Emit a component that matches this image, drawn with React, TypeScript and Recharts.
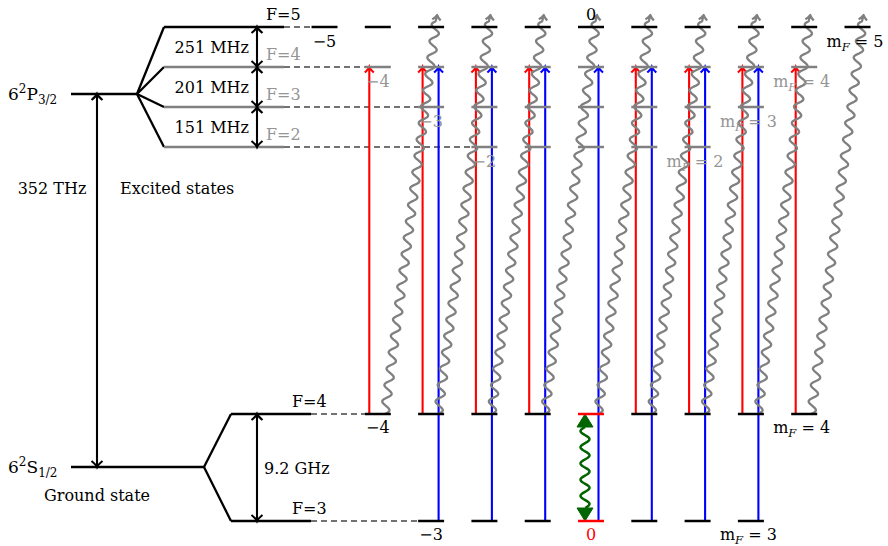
import { ComposedChart, XAxis, YAxis, Scatter, ReferenceLine, ReferenceDot } from "recharts";

// quantum numbers of the Cs D2 line
const mF = [-5, -4, -3, -2, -1, 0, 1, 2, 3, 4, 5];
const excitedF = [5, 4, 3, 2];
const excitedSplits = ["251 MHz", "201 MHz", "151 MHz"];
const groundF = [4, 3];
const groundSplit = "9.2 GHz";
const opticalSplit = "352 THz";
// transitions
const redM = [-4, -3, -2, -1, 1, 2, 3, 4]; // F=4 -> F'=4, same m
const blueM = [-3, -2, -1, 0, 1, 2, 3]; // F=3 -> F'=4, same m
const decayM = [-4, -3, -2, -1, 0, 1, 2, 3, 4]; // F=4 m -> F'=5 m+1
const clockM = 0;

// layout
const W = 888;
const H = 546;
const COL0 = 591;
const COLW = 53.3;
const HALF = 13;
const yExc: Record<number, number> = { 5: 27, 4: 67, 3: 107, 2: 147 };
const yGnd: Record<number, number> = { 4: 414, 3: 521 };
const Y_P = 94;
const Y_S = 467;
const X_TERM = 71;
const X_PFAN = 137;
const X_HF = 164;
const X_HFEND = 284;
const X_SFAN = 204;
const X_GHF = 231;
const X_GHFEND = 311;
const X_BIG = 97;
const X_SPLIT = 257;
const Y_TIP = 15;

const BLACK = "#000";
const GRAY = "#808080";
const LGRAY = "#959595";
const RED = "#ff0000";
const BLUE = "#0000ff";
const GREEN = "#006400";
const FONT = "DejaVu Serif";

const colX = (m: number) => COL0 + COLW * m;
const fmt = (m: number) => (m < 0 ? "\u2212" + Math.abs(m) : String(m));

const sublevels = [
  ...excitedF.flatMap((F) =>
    mF.filter((m) => Math.abs(m) <= F).map((m) => ({ x: colX(m), y: yExc[F], color: F === 5 ? BLACK : GRAY }))
  ),
  ...groundF.flatMap((F) =>
    mF.filter((m) => Math.abs(m) <= F).map((m) => ({ x: colX(m), y: yGnd[F], color: m === clockM ? RED : BLACK }))
  ),
];

function unit(x1: number, y1: number, x2: number, y2: number) {
  const dx = x2 - x1, dy = y2 - y1, L = Math.hypot(dx, dy);
  return { L, ux: dx / L, uy: dy / L, nx: -dy / L, ny: dx / L };
}

function head(tx: number, ty: number, ux: number, uy: number, w: number, l: number) {
  const nx = -uy, ny = ux;
  const ax = tx - ux * l, ay = ty - uy * l;
  return `M${ax + nx * w},${ay + ny * w} Q${tx - ux * l * 0.35 + nx * w * 0.15},${ty - uy * l * 0.35 + ny * w * 0.15} ${tx},${ty} Q${tx - ux * l * 0.35 - nx * w * 0.15},${ty - uy * l * 0.35 - ny * w * 0.15} ${ax - nx * w},${ay - ny * w}`;
}

function arrow(color: string, sw: number, w: number, l: number, both: boolean) {
  return (p: any) => {
    const { x1, y1, x2, y2 } = p;
    const u = unit(x1, y1, x2, y2);
    let d = `M${x1},${y1} L${x2},${y2} ` + head(x2, y2, u.ux, u.uy, w, l);
    if (both) d += " " + head(x1, y1, -u.ux, -u.uy, w, l);
    return <path d={d} stroke={color} strokeWidth={sw} fill="none" />;
  };
}

function wave(x1: number, y1: number, x2: number, y2: number, amp: number, len: number, a: number, b: number) {
  const u = unit(x1, y1, x2, y2);
  const span = u.L - a - b;
  const lam = span / Math.max(1, Math.round(span / len));
  let d = `M${x1 + u.ux * a},${y1 + u.uy * a}`;
  for (let t = 0; t <= span; t += 0.8) {
    const o = amp * Math.sin((2 * Math.PI * t) / lam);
    d += ` L${(x1 + u.ux * (a + t) + u.nx * o).toFixed(2)},${(y1 + u.uy * (a + t) + u.ny * o).toFixed(2)}`;
  }
  return { d, u };
}

const decayShape = (p: any) => {
  const { x1, y1, x2, y2 } = p;
  const { d, u } = wave(x1, y1, x2, y2, 4.2, 16.5, 0, 6);
  return (
    <path
      d={d + ` L${x2},${y2} ` + head(x2, y2, u.ux, u.uy, 4.2, 5)}
      stroke={GRAY}
      strokeWidth={2.3}
      fill="none"
      strokeLinejoin="round"
    />
  );
};

const clockShape = (p: any) => {
  const { x1, y1, x2, y2 } = p;
  const { d } = wave(x1, y1, x2, y2, 4.5, 15, 13, 13);
  const tri = (tx: number, ty: number, s: number) =>
    `M${tx},${ty} L${tx - 8},${ty + s * 13} L${tx + 8},${ty + s * 13} Z`;
  return (
    <g>
      <path d={d} stroke={GREEN} strokeWidth={2.5} fill="none" strokeLinejoin="round" />
      <path d={tri(x1, y1, 1) + " " + tri(x2, y2, -1)} fill={GREEN} stroke={GREEN} strokeWidth={1} />
    </g>
  );
};

const seg = (key: string, a: [number, number], b: [number, number], props: any) => (
  <ReferenceLine
    key={key}
    segment={[{ x: a[0], y: a[1] }, { x: b[0], y: b[1] }]}
    ifOverflow="visible"
    {...props}
  />
);

const txt = (key: string, x: number, y: number, content: any, anchor = "start", color = BLACK, size = 16) => (
  <ReferenceDot
    key={key}
    x={x}
    y={y}
    r={0}
    ifOverflow="visible"
    shape={(p: any) => (
      <text x={p.cx} y={p.cy} textAnchor={anchor} fill={color} fontFamily={FONT} fontSize={size}>
        {content}
      </text>
    )}
  />
);

const mfLabel = (v: number) => (
  <>
    <tspan>m</tspan>
    <tspan fontStyle="italic" fontSize={11.5} dy={3.5}>F</tspan>
    <tspan dy={-3.5}>{" = " + v}</tspan>
  </>
);

const term = (L: string) => (
  <>
    <tspan>6</tspan>
    <tspan fontSize={12} dy={-7.5}>2</tspan>
    <tspan dy={7.5}>{L}</tspan>
    <tspan fontSize={12} dy={4}>{L === "P" ? "3/2" : "1/2"}</tspan>
  </>
);

const bar = (p: any) => (
  <line x1={p.cx - HALF} x2={p.cx + HALF} y1={p.cy} y2={p.cy} stroke={p.payload.color} strokeWidth={2.5} />
);

export default function App() {
  const solid = { stroke: BLACK, strokeWidth: 2.3 };
  const dashed = { stroke: "#444", strokeWidth: 1.3, strokeDasharray: "6 4" };

  const lines = [
    seg("pterm", [X_TERM, Y_P], [X_PFAN, Y_P], solid),
    seg("sterm", [X_TERM, Y_S], [X_SFAN, Y_S], solid),
    ...excitedF.flatMap((F) => [
      seg("pf" + F, [X_PFAN, Y_P], [X_HF, yExc[F]], solid),
      seg("ph" + F, [X_HF, yExc[F]], [X_HFEND, yExc[F]], { stroke: F === 5 ? BLACK : GRAY, strokeWidth: 2.3 }),
      seg("pd" + F, [X_HFEND, yExc[F]], [colX(-F) - HALF, yExc[F]], dashed),
    ]),
    ...groundF.flatMap((F) => [
      seg("sf" + F, [X_SFAN, Y_S], [X_GHF, yGnd[F]], solid),
      seg("sh" + F, [X_GHF, yGnd[F]], [X_GHFEND, yGnd[F]], solid),
      seg("sd" + F, [X_GHFEND, yGnd[F]], [colX(-F) - HALF, yGnd[F]], dashed),
    ]),
    seg("big", [X_BIG, Y_P], [X_BIG, Y_S], { shape: arrow(BLACK, 2.1, 5.5, 6, true) }),
    ...excitedSplits.map((_, i) =>
      seg("split" + i, [X_SPLIT, yExc[excitedF[i]]], [X_SPLIT, yExc[excitedF[i + 1]]], {
        shape: arrow(BLACK, 2.1, 5.5, 6, true),
      })
    ),
    seg("gsplit", [X_SPLIT, yGnd[4]], [X_SPLIT, yGnd[3]], { shape: arrow(BLACK, 2.1, 5.5, 6, true) }),
    ...redM.map((m) =>
      seg("r" + m, [colX(m) - 8.5, yGnd[4]], [colX(m) - 8.5, yExc[4]], { shape: arrow(RED, 2.1, 4.5, 5.5, false) })
    ),
    ...blueM.map((m) =>
      seg("b" + m, [colX(m) + 7.5, yGnd[3]], [colX(m) + 7.5, yExc[4]], { shape: arrow(BLUE, 2.1, 4.5, 5.5, false) })
    ),
    ...decayM.map((m) => seg("w" + m, [colX(m) + 7, yGnd[4]], [colX(m + 1) + 6, Y_TIP], { shape: decayShape })),
    seg("clock", [colX(clockM) - 6, yGnd[4]], [colX(clockM) - 6, yGnd[3]], { shape: clockShape }),
  ];

  const labels = [
    txt("tp", 8, Y_P + 6, term("P"), "start", BLACK, 17),
    txt("ts", 8, Y_S + 6, term("S"), "start", BLACK, 17),
    txt("thz", 52, 194, opticalSplit, "middle"),
    txt("exc", 120, 194, "Excited states"),
    txt("gnd", 97, 501, "Ground state", "middle"),
    ...excitedF.map((F) => txt("fe" + F, 266, yExc[F] - 7, "F=" + F, "start", F === 5 ? BLACK : LGRAY)),
    ...excitedSplits.map((s, i) => txt("sp" + i, 249, yExc[excitedF[i]] + 26, s, "end")),
    ...groundF.map((F) => txt("fg" + F, 292, yGnd[F] - 7, "F=" + F)),
    txt("ghz", 264, 474, groundSplit),
    ...excitedF.map((F) => txt("ml" + F, colX(-F), yExc[F] + 20, fmt(-F), "middle", F === 5 ? BLACK : LGRAY)),
    ...excitedF.map((F) => txt("mr" + F, colX(F) - 31, yExc[F] + 20, mfLabel(F), "start", F === 5 ? BLACK : LGRAY)),
    txt("m0", colX(0), yExc[5] - 7, "0", "middle"),
    ...groundF.map((F) => txt("gl" + F, colX(-F), yGnd[F] + 19, fmt(-F), "middle")),
    ...groundF.map((F) => txt("gr" + F, colX(F) - 31, yGnd[F] + 19, mfLabel(F))),
    txt("g0", colX(clockM), yGnd[3] + 19, "0", "middle", RED),
  ];

  return (
    <div style={{ position: "absolute", left: 0, top: 0, background: "#fff" }}>
      <ComposedChart width={W} height={H} margin={{ top: 0, right: 0, bottom: 0, left: 0 }} data={sublevels}>
        <XAxis type="number" dataKey="x" domain={[0, W]} allowDataOverflow hide />
        <YAxis type="number" dataKey="y" domain={[0, H]} allowDataOverflow reversed hide />
        {lines}
        <Scatter data={sublevels} dataKey="y" isAnimationActive={false} shape={bar} />
        {labels}
      </ComposedChart>
    </div>
  );
}
